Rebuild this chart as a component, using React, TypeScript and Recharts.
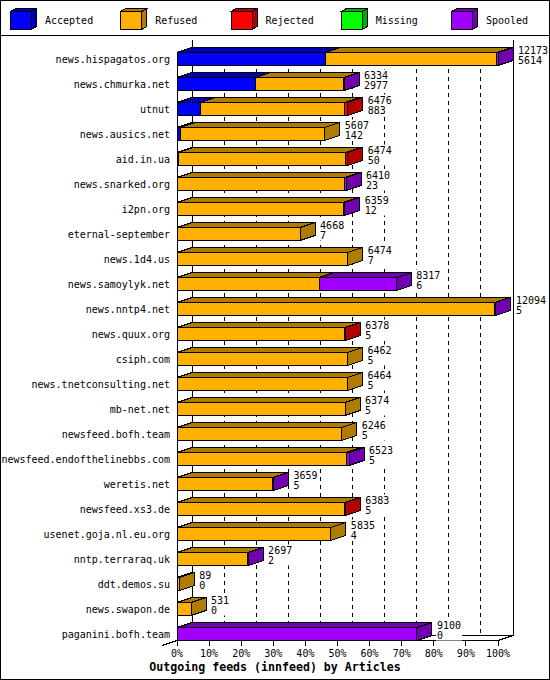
import React from "react";
import { BarChart, Bar, XAxis, YAxis, Legend, LabelList, ReferenceArea } from "recharts";

// innfeed outgoing feeds, articles per peer
const hosts = [
  "news.hispagatos.org",
  "news.chmurka.net",
  "utnut",
  "news.ausics.net",
  "aid.in.ua",
  "news.snarked.org",
  "i2pn.org",
  "eternal-september",
  "news.1d4.us",
  "news.samoylyk.net",
  "news.nntp4.net",
  "news.quux.org",
  "csiph.com",
  "news.tnetconsulting.net",
  "mb-net.net",
  "newsfeed.bofh.team",
  "newsfeed.endofthelinebbs.com",
  "weretis.net",
  "newsfeed.xs3.de",
  "usenet.goja.nl.eu.org",
  "nntp.terraraq.uk",
  "ddt.demos.su",
  "news.swapon.de",
  "paganini.bofh.team",
];

const accepted = [5614, 2977, 883, 142, 50, 23, 12, 7, 7, 6, 5, 5, 5, 5, 5, 5, 5, 5, 5, 4, 2, 0, 0, 0];
const refused = [6504, 3327, 5463, 5465, 6354, 6347, 6287, 4661, 6467, 5380, 12049, 6353, 6457, 6459, 6369, 6241, 6408, 3629, 6358, 5831, 2680, 89, 531, 0];
const rejected = [0, 0, 130, 0, 70, 0, 0, 0, 0, 0, 0, 20, 0, 0, 0, 0, 0, 0, 20, 0, 0, 0, 0, 0];
const missing = [0, 0, 0, 0, 0, 0, 0, 0, 0, 0, 0, 0, 0, 0, 0, 0, 0, 0, 0, 0, 0, 0, 0, 0];
const spooled = [55, 30, 0, 0, 0, 40, 60, 0, 0, 2931, 40, 0, 0, 0, 0, 0, 110, 25, 0, 0, 15, 0, 0, 9100];

const pctTicks = [0, 10, 20, 30, 40, 50, 60, 70, 80, 90, 100];

const seriesKeys = ["accepted", "refused", "rejected", "missing", "spooled"];
const seriesNames = ["Accepted", "Refused", "Rejected", "Missing", "Spooled"];
const frontColors = ["#0000ff", "#ffb000", "#ff0000", "#00ff00", "#a000ff"];
const darkColors = ["#0000b0", "#b07c00", "#b00000", "#00b000", "#7000b0"];

const totals = hosts.map((_, i) => accepted[i] + refused[i] + rejected[i] + missing[i] + spooled[i]);
const maxTotal = Math.max(...totals);
const pct = (v: number) => (v / maxTotal) * 100;

const rows = hosts.map((host, i) => ({
  host,
  accepted: pct(accepted[i]),
  refused: pct(refused[i]),
  rejected: pct(rejected[i]),
  missing: pct(missing[i]),
  spooled: pct(spooled[i]),
}));

const W = 550;
const H = 680;
const BAR = 13;
const DX = 15; // depth of the 3d boxes
const DY = 5;
const MONO = "'DejaVu Sans Mono', 'Liberation Mono', monospace";
const CHAR_W = 6.02;

function box(front: string, dark: string) {
  return (p: any) => {
    const { x, y, width, height } = p;
    if (!(width > 0)) return <g />;
    const x2 = x + width;
    return (
      <g shapeRendering="crispEdges" stroke="#000" strokeWidth={1}>
        <rect x={x} y={y} width={width} height={height} fill={front} />
        <polygon points={`${x},${y} ${x + DX},${y - DY} ${x2 + DX},${y - DY} ${x2},${y}`} fill={dark} />
        <polygon
          points={`${x2},${y} ${x2 + DX},${y - DY} ${x2 + DX},${y + height - DY} ${x2},${y + height}`}
          fill={dark}
        />
      </g>
    );
  };
}

// walls, floor and back grid of the 3d box
function Frame(p: any) {
  const { x, y, width, height } = p;
  const band = height / hosts.length;
  const gap = (band - BAR) / 2;
  const floor = y + height - gap;
  const line = { stroke: "#000", strokeWidth: 1, shapeRendering: "crispEdges" as const };
  return (
    <g>
      {pctTicks.slice(1, -1).map((t) => {
        const gx = x + (width * t) / 100 + DX;
        return <line key={t} x1={gx} y1={y + gap} x2={gx} y2={floor - DY} strokeDasharray="4 4" {...line} />;
      })}
      <line x1={x + DX} y1={y - gap - 0.5} x2={x + DX} y2={floor - DY} {...line} />
      <line x1={x + width + DX} y1={y - gap - 0.5} x2={x + width + DX} y2={floor - DY} {...line} />
      <line x1={x} y1={y + gap} x2={x} y2={floor} {...line} />
      <line x1={x + DX} y1={floor - DY} x2={x + width + DX} y2={floor - DY} {...line} />
      <line x1={x} y1={floor} x2={x + width} y2={floor} {...line} />
      <line x1={x + width} y1={floor} x2={x + width + DX} y2={floor - DY} {...line} />
      <line x1={x - DX} y1={floor + DY} x2={x} y2={floor} {...line} />
    </g>
  );
}

function Totals(p: any) {
  const vb = p.viewBox || p;
  const i = p.index;
  if (i == null || vb.x == null) return null;
  const tx = vb.x + vb.width + DX + 5;
  const ty = vb.y;
  const a = String(totals[i]);
  const b = String(accepted[i]);
  const len = Math.max(a.length, b.length) * CHAR_W;
  return (
    <g>
      <rect x={tx - 1} y={ty - 8} width={len + 2} height={21} fill="#fff" />
      <text x={tx} y={ty + 1} fontFamily={MONO} fontSize={10} fill="#000">{a}</text>
      <text x={tx} y={ty + 11.5} fontFamily={MONO} fontSize={10} fill="#000">{b}</text>
    </g>
  );
}

function XTick(p: any) {
  const { x, y, payload } = p;
  return (
    <g>
      <line x1={x} y1={y - 6} x2={x} y2={y - 1} stroke="#000" shapeRendering="crispEdges" />
      <text x={x} y={y + 10} textAnchor="middle" fontFamily={MONO} fontSize={10} fill="#000">
        {payload.value}%
      </text>
    </g>
  );
}

function Title(p: any) {
  const y = (p.viewBox && p.viewBox.y != null ? p.viewBox.y : H - 33.5) + 24.5;
  return (
    <text x={W / 2} y={y} textAnchor="middle" fontFamily={MONO} fontWeight="bold" fontSize={11.6} fill="#000">
      Outgoing feeds (innfeed) by Articles
    </text>
  );
}

function LegendBox(p: any) {
  const items = [...(p.payload || [])].sort(
    (a: any, b: any) => seriesNames.indexOf(a.value) - seriesNames.indexOf(b.value)
  );
  return (
    <svg width={W} height={36} style={{ display: "block" }}>
      <line x1={0} y1={35.5} x2={W} y2={35.5} stroke="#000" shapeRendering="crispEdges" />
      {items.map((it: any, i: number) => {
        const k = seriesNames.indexOf(it.value);
        const x0 = 10.5 + i * 110.25;
        const y0 = 11.5;
        const w = 21;
        const h = 18;
        return (
          <g key={it.value}>
            <g stroke="#000" shapeRendering="crispEdges">
              <rect x={x0} y={y0} width={w} height={h} fill={frontColors[k]} />
              <polygon points={`${x0},${y0} ${x0 + 5},${y0 - 3} ${x0 + w + 5},${y0 - 3} ${x0 + w},${y0}`} fill={darkColors[k]} />
              <polygon
                points={`${x0 + w},${y0} ${x0 + w + 5},${y0 - 3} ${x0 + w + 5},${y0 + h - 3} ${x0 + w},${y0 + h}`}
                fill={darkColors[k]}
              />
            </g>
            <text x={x0 + 34.5} y={y0 + 12} fontFamily={MONO} fontSize={10} fill="#000">
              {it.value}
            </text>
          </g>
        );
      })}
    </svg>
  );
}

export default function App() {
  return (
    <div style={{ position: "absolute", left: 0, top: 0, width: W, height: H, background: "#fff" }}>
      <BarChart
        width={W}
        height={H}
        data={rows}
        layout="vertical"
        barSize={BAR}
        margin={{ top: 10.5, right: 52, bottom: 0.5, left: 7 }}
      >
        <Legend
          verticalAlign="top"
          align="left"
          content={LegendBox}
          wrapperStyle={{ top: 0, left: 0, width: W, height: 36, margin: 0 }}
        />
        <XAxis
          type="number"
          domain={[0, 100]}
          ticks={pctTicks}
          interval={0}
          axisLine={false}
          tickLine={false}
          tickSize={0}
          tickMargin={0}
          height={33}
          tick={XTick}
          label={Title}
        />
        <YAxis
          type="category"
          dataKey="host"
          width={170}
          interval={0}
          axisLine={false}
          tickLine={false}
          tickSize={0}
          tickMargin={7}
          tick={{ fill: "#000", fontSize: 10, fontFamily: MONO }}
        />
        <ReferenceArea x1={0} x2={100} shape={Frame} ifOverflow="visible" />
        {seriesKeys.map((k, i) => (
          <Bar
            key={k}
            dataKey={k}
            name={seriesNames[i]}
            stackId="feeds"
            fill={frontColors[i]}
            shape={box(frontColors[i], darkColors[i])}
            isAnimationActive={false}
          >
            {k === "spooled" && <LabelList dataKey="spooled" content={Totals} />}
          </Bar>
        ))}
      </BarChart>
      <div
        style={{
          position: "absolute",
          left: 0,
          top: 0,
          width: W,
          height: H,
          boxSizing: "border-box",
          border: "1px solid #000",
          pointerEvents: "none",
        }}
      />
    </div>
  );
}
